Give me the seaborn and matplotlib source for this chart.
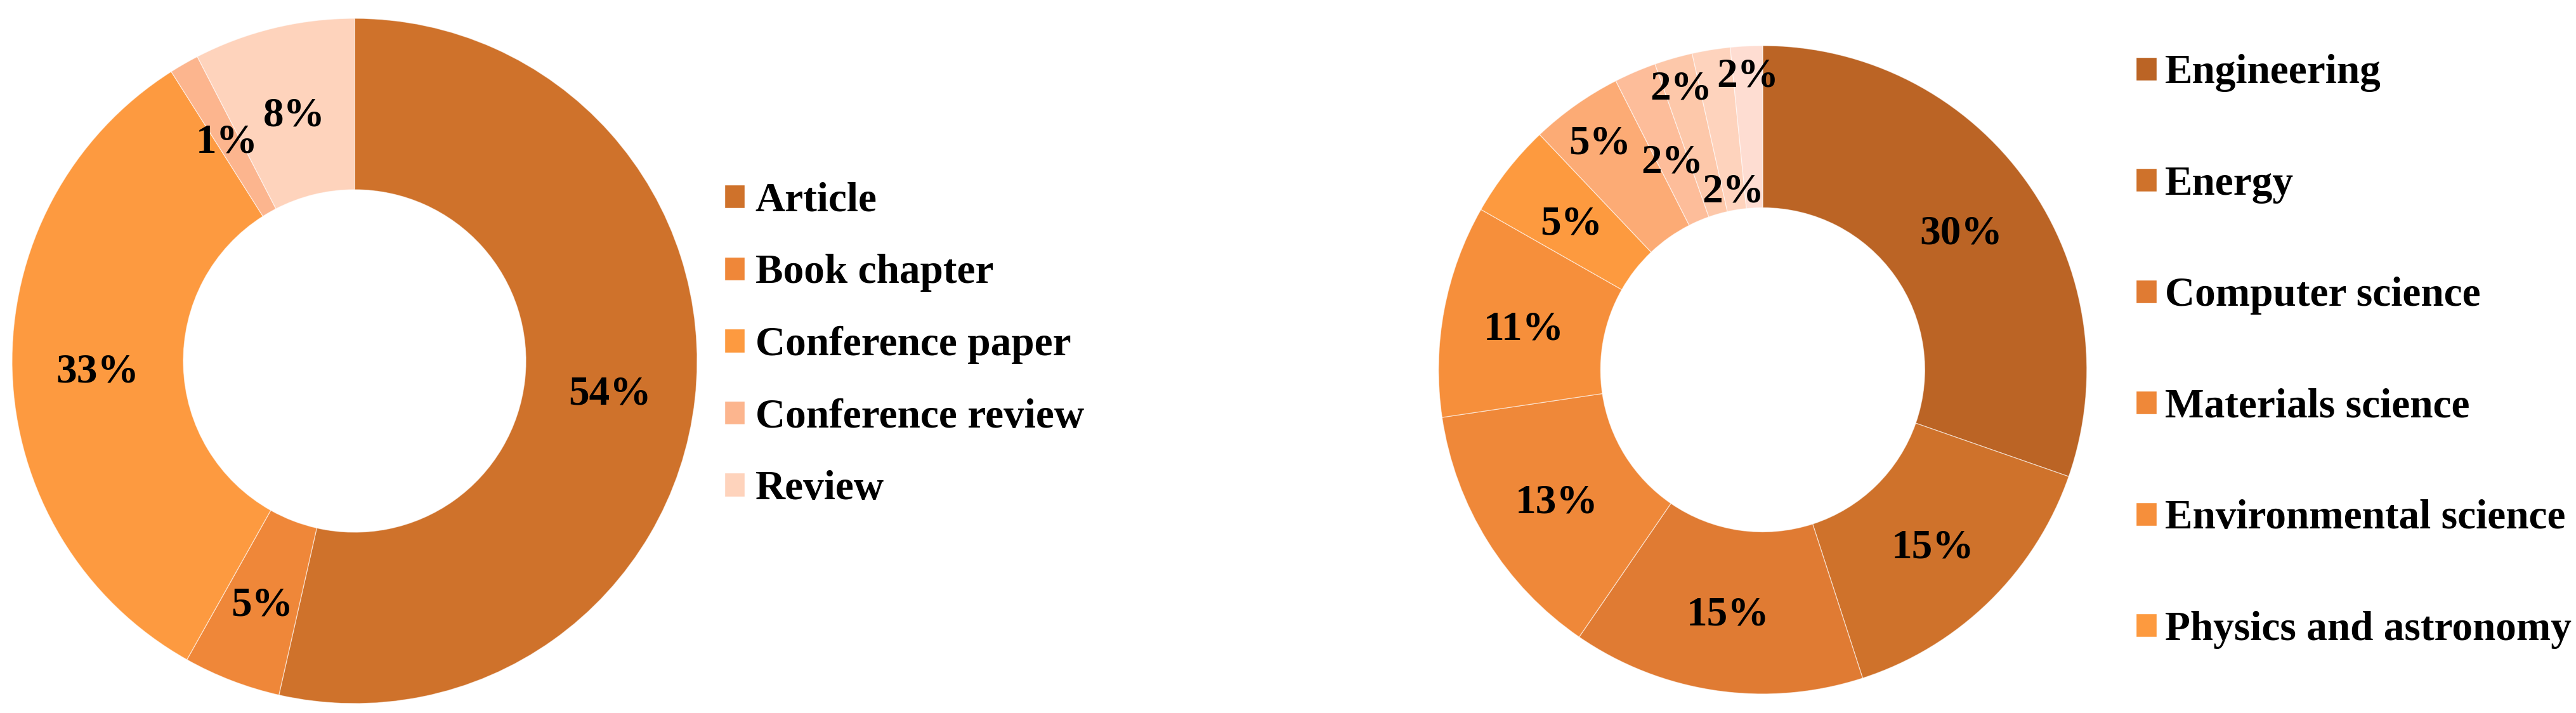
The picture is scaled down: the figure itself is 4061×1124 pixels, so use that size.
import numpy as np
import matplotlib
matplotlib.use("Agg")
import matplotlib.pyplot as plt
from matplotlib.patches import Patch
import seaborn as sns

# document types (left donut)
doc_types = ["Article", "Book chapter", "Conference paper", "Conference review", "Review"]
doc_share = [53.6, 4.6, 32.9, 1.4, 7.6]
doc_colors = ["#CF722B", "#EF8739", "#FD9A40", "#FCB58E", "#FED3BC"]

# subject areas (right donut) - legend only shows the first six
subject_areas = ["Engineering", "Energy", "Computer science", "Materials science",
                 "Environmental science", "Physics and astronomy"]
subject_share = [30.4, 14.7, 14.6, 13.1, 10.6, 4.7, 4.6, 2.1, 1.9, 1.9, 1.6]
subject_colors = ["#BB6425", "#CF722B", "#E07B33", "#EF8839", "#F68F3B", "#FD9A3F",
                  "#FCAB75", "#FDBD9A", "#FDC8AA", "#FED3BD", "#FEDDD2"]

# radial position of the percent labels (Excel moved the small ones around)
doc_label_r = [0.75] * 5
subject_label_r = [0.75] * 6 + [0.87, 0.71, 0.915, 0.57, 0.92]

sns.set_theme(style="white")
plt.rcParams["font.family"] = ["Liberation Serif", "DejaVu Serif"]
plt.rcParams["text.color"] = "black"

FS = 47
fig = plt.figure(figsize=(40.62, 11.24), dpi=100)


def donut(rect, shares, colors, label_r):
    ax = fig.add_axes(rect)
    wedges, _ = ax.pie(shares, colors=colors, startangle=90, counterclock=False, radius=1,
                       wedgeprops=dict(width=0.5, edgecolor=(1, 1, 1, 0.6), linewidth=0.9))
    for w, r, v in zip(wedges, label_r, shares):
        ang = np.deg2rad((w.theta1 + w.theta2) / 2)
        ax.text(r * np.cos(ang), r * np.sin(ang), f"{v:.0f}%", ha="center",
                va="center_baseline", fontsize=FS, fontweight="bold", color="black")
    ax.set_xlim(-1, 1)
    ax.set_ylim(-1, 1)
    ax.set_aspect("equal")
    ax.axis("off")
    return ax


ax1 = donut([0.00468, 0.01334, 0.26588, 0.96085], doc_share, doc_colors, doc_label_r)
ax2 = donut([0.5583, 0.02669, 0.2516, 0.9093], subject_share, subject_colors, subject_label_r)

ax1.legend(handles=[Patch(facecolor=c, label=n) for n, c in zip(doc_types, doc_colors)],
           loc="center left", bbox_to_anchor=(0.2811, 0.516), bbox_transform=fig.transFigure,
           frameon=False, prop={"size": FS, "weight": "bold"}, handlelength=0.5,
           handleheight=0.5, handletextpad=0.25, labelspacing=0.82, borderpad=0,
           borderaxespad=0, labelcolor="black")

ax2.legend(handles=[Patch(facecolor=c, label=n) for n, c in zip(subject_areas, subject_colors)],
           loc="center left", bbox_to_anchor=(0.8289, 0.507), bbox_transform=fig.transFigure,
           frameon=False, prop={"size": FS, "weight": "bold"}, handlelength=0.5,
           handleheight=0.5, handletextpad=0.2, labelspacing=1.77, borderpad=0,
           borderaxespad=0, labelcolor="black")

fig.savefig("out.png", dpi=100, facecolor="white")
